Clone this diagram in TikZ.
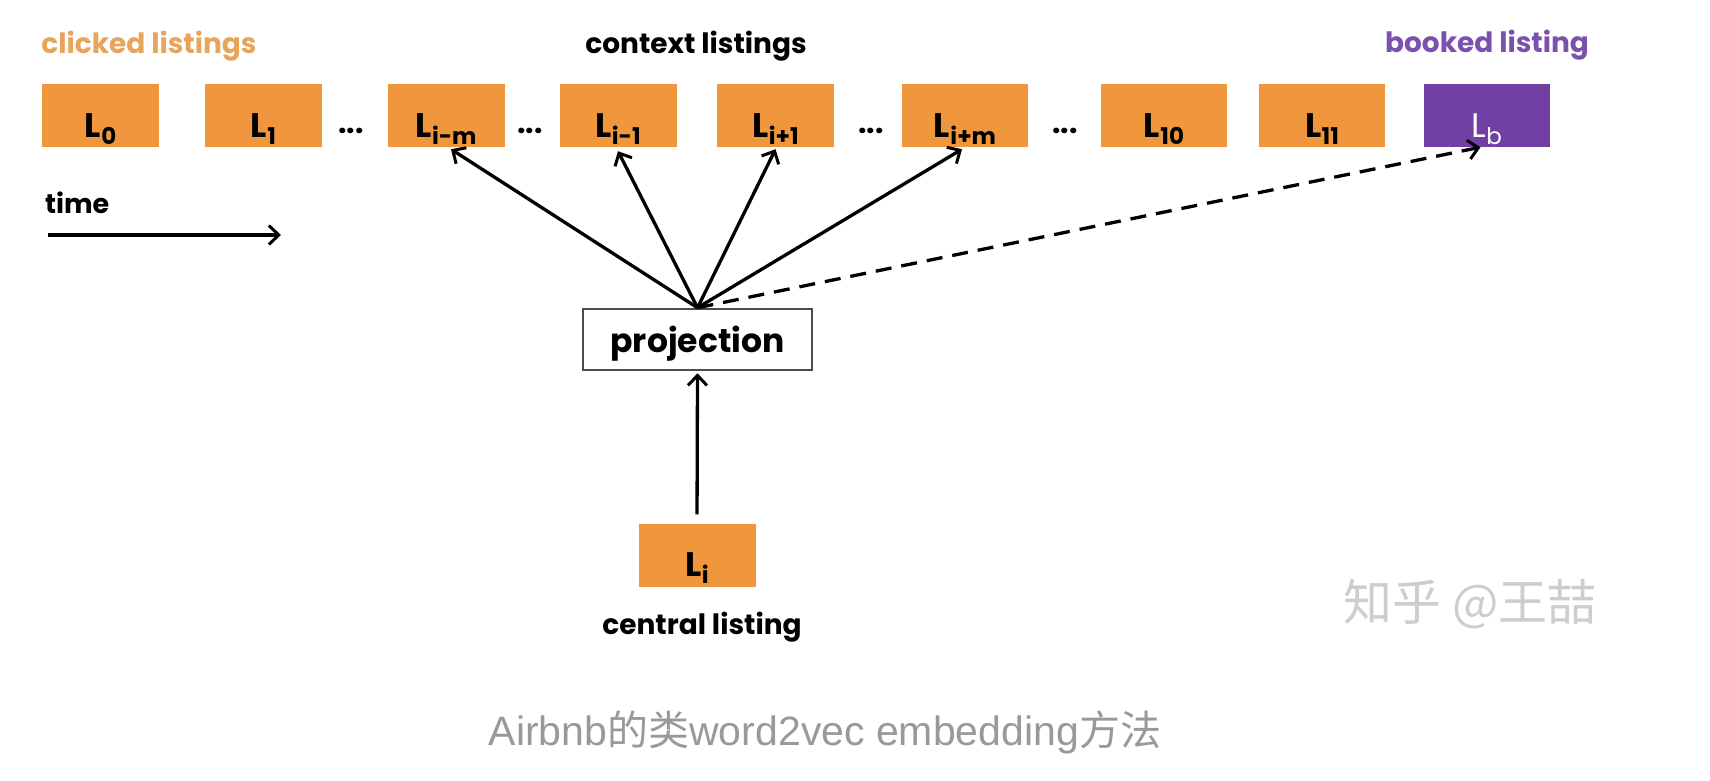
\documentclass[tikz,border=0pt]{standalone}
\usepackage{fontspec}
\setmainfont{Poppins}
\newfontfamily\capfont{Liberation Sans}
\newfontfamily\cjk{Noto Sans CJK SC}
\usetikzlibrary{arrows.meta}
\definecolor{boxorange}{HTML}{F0963C}
\definecolor{clickorange}{HTML}{E9A45C}
\definecolor{boxpurple}{HTML}{7240A2}
\definecolor{bookpurple}{HTML}{7A52AD}
\definecolor{capgray}{HTML}{999999}
\definecolor{wmgray}{HTML}{CDCDCD}
\newcommand\Lsub[1]{L\kern0.01em\raisebox{-0.22em}{\fontsize{23}{23}\selectfont #1}}
\tikzset{
  lbox/.style={fill=boxorange, minimum width=117pt, minimum height=63pt, inner sep=0pt,
    text height=43pt, text depth=0pt, font=\fontsize{34}{34}\selectfont\bfseries},
  wide/.style={minimum width=126pt},
  bbox/.style={lbox, fill=boxpurple, text=white, font=\fontsize{34}{34}\selectfont},
  heading/.style={anchor=base, inner sep=0pt, font=\fontsize{28}{28}\selectfont\bfseries},
  dotsnode/.style={inner sep=0pt, font=\fontsize{30}{30}\selectfont\bfseries},
  conn/.style={line width=3.3pt, -{Straight Barb[length=10pt,width=19pt,line width=3pt]}},
  dconn/.style={conn, dash pattern=on 16pt off 10pt},
}
\begin{document}
\begin{tikzpicture}[x=1pt,y=-1pt]
\useasboundingbox[fill=white] (0,0) rectangle (1710,780);
% headings
\node[heading, text=clickorange] (hclick) at (149,53) {clicked listings};
\node[heading] (hcontext) at (696,53) {context listings};
\node[heading, text=bookpurple] (hbook) at (1487,52) {booked listing};
% row of listings
\node[lbox] (L0) at (100.5,115.5) {\Lsub{0}};
\node[lbox] (L1) at (263.5,115.5) {\Lsub{1}};
\node[dotsnode] (d1) at (351,131) {...};
\node[lbox] (Lim) at (446,115.5) {\Lsub{i-m}};
\node[dotsnode] (d2) at (530,131) {...};
\node[lbox] (Lim1) at (618,115.5) {\Lsub{i-1}};
\node[lbox] (Lip1) at (775.5,115.5) {\Lsub{i+1}};
\node[dotsnode] (d3) at (871,131) {...};
\node[lbox, wide] (Lipm) at (965,115.5) {\Lsub{i+m}};
\node[dotsnode] (d4) at (1065,131) {...};
\node[lbox, wide] (L10) at (1164,115.5) {\Lsub{10}};
\node[lbox, wide] (L11) at (1322,115.5) {\Lsub{11}};
\node[bbox, wide] (Lb) at (1486.5,115.5) {\Lsub{b}};
% time
\node[heading, anchor=base west, font=\fontsize{27}{27}\selectfont\bfseries] (time) at (45,213) {time};
\coordinate (t0) at (48,235);
\coordinate (t1) at (281,235);
\draw[conn] (t0) -- (t1);
% projection
\node[draw=black!70, line width=2.5pt, fill=white, minimum width=229pt, minimum height=61pt,
      inner sep=0pt, text height=25pt, text depth=0pt,
      font=\fontsize{33}{33}\selectfont\bfseries] (proj) at (697.5,339.5) {projection};
% central listing
\node[lbox] (Li) at (697,555) {\Lsub{i}};
\node[heading, font=\fontsize{28}{28}\selectfont\bfseries] (hcentral) at (702,634) {central listing};
% connectors
\draw[conn] (proj.north) -- ([xshift=5pt,yshift=-2pt]Lim.south);
\draw[conn] (proj.north) -- ([yshift=-4pt]Lim1.south);
\draw[conn] (proj.north) -- ([yshift=-2pt]Lip1.south);
\draw[conn] (proj.north) -- ([xshift=-3pt,yshift=-2pt]Lipm.south);
\draw[dconn] (proj.north) -- ([xshift=-6pt]Lb.south);
\draw[conn, shorten <=9pt] (Li.north) -- ([yshift=-2pt]proj.south);
% watermark
\node[anchor=base, inner sep=0pt, text=wmgray, font=\cjk\fontsize{49}{49}\selectfont] (wm) at (1470,620) {知乎 @王喆};
% caption
\node[anchor=base, inner sep=0pt, text=capgray, font=\fontsize{41}{41}\selectfont] (cap) at (825,745)
  {{\capfont Airbnb}{\cjk 的类}{\capfont word2vec embedding}{\cjk 方法}};
\end{tikzpicture}
\end{document}
